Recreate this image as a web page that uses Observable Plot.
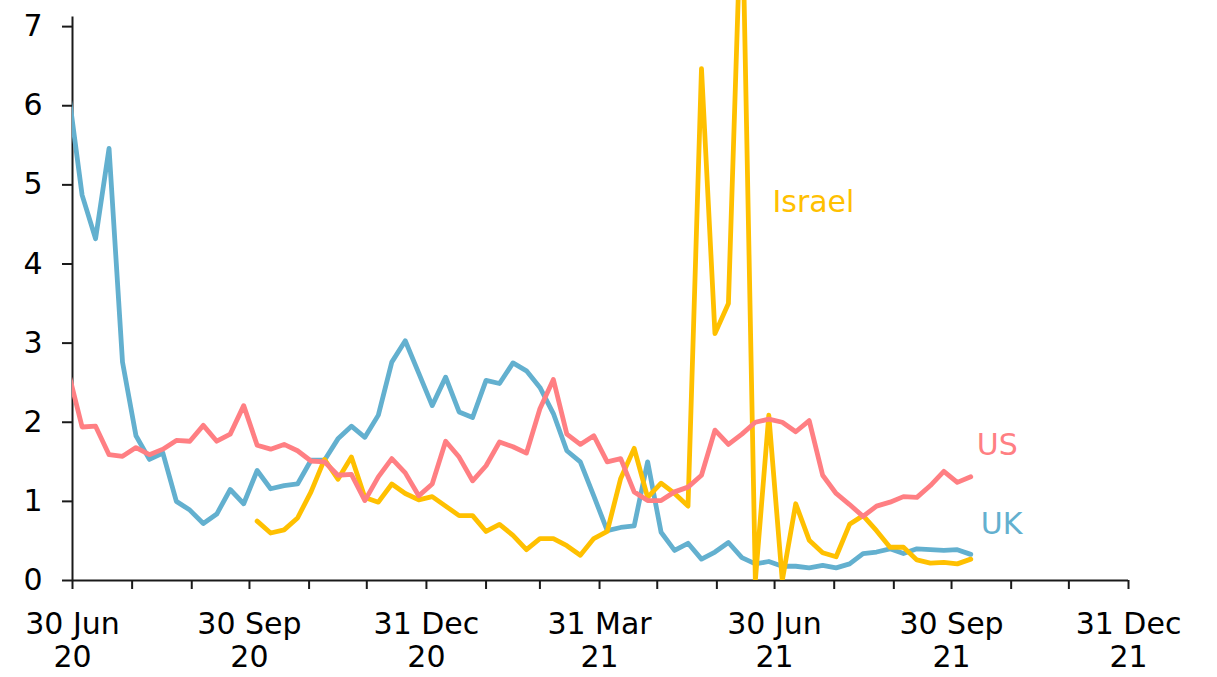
<!DOCTYPE html>
<html>
<head>
<meta charset="utf-8">
<script src="https://cdn.jsdelivr.net/npm/d3@7"></script>
<script src="https://cdn.jsdelivr.net/npm/@observablehq/plot@0.6"></script>
<style>
  html, body { margin: 0; padding: 0; background: #ffffff; }
  #chart { width: 1217px; height: 677px; overflow: hidden; }
</style>
</head>
<body>
<div id="chart"></div>
<script>
// Weekly observations, first week starting 28 Jun 2020 (68 weeks)
const firstWeek = "2020-06-28";
const weekCount = 68;

const ukValues = [6.16, 4.87, 4.32, 5.46, 2.76, 1.83, 1.53, 1.61, 1.00, 0.89,
  0.72, 0.84, 1.15, 0.97, 1.39, 1.16, 1.20, 1.22, 1.52, 1.52,
  1.79, 1.95, 1.81, 2.09, 2.76, 3.03, 2.62, 2.21, 2.57, 2.13,
  2.06, 2.53, 2.49, 2.75, 2.65, 2.44, 2.11, 1.64, 1.50, 1.07,
  0.63, 0.67, 0.69, 1.50, 0.61, 0.38, 0.47, 0.27, 0.36, 0.48,
  0.29, 0.21, 0.24, 0.18, 0.18, 0.16, 0.19, 0.16, 0.21, 0.34,
  0.36, 0.40, 0.34, 0.40, 0.39, 0.38, 0.39, 0.33];

const usValues = [2.62, 1.94, 1.95, 1.59, 1.57, 1.68, 1.59, 1.66, 1.77, 1.76,
  1.96, 1.76, 1.85, 2.21, 1.71, 1.66, 1.72, 1.64, 1.51, 1.50,
  1.33, 1.34, 1.01, 1.31, 1.54, 1.36, 1.07, 1.22, 1.76, 1.56,
  1.26, 1.45, 1.75, 1.69, 1.61, 2.17, 2.54, 1.85, 1.72, 1.83,
  1.50, 1.54, 1.12, 1.01, 1.01, 1.12, 1.18, 1.33, 1.90, 1.72,
  1.85, 2.00, 2.04, 2.00, 1.88, 2.02, 1.33, 1.10, 0.96, 0.81,
  0.94, 0.99, 1.06, 1.05, 1.20, 1.38, 1.24, 1.31];

const israelValues = [null, null, null, null, null, null, null, null, null, null,
  null, null, null, null, 0.75, 0.60, 0.64, 0.79, 1.12, 1.53,
  1.28, 1.56, 1.05, 0.99, 1.22, 1.10, 1.02, 1.06, 0.94, 0.82,
  0.82, 0.62, 0.71, 0.57, 0.39, 0.53, 0.53, 0.44, 0.32, 0.53,
  0.62, 1.29, 1.67, 1.05, 1.23, 1.10, 0.94, 6.47, 3.12, 3.50,
  8.80, 0.00, 2.09, 0.00, 0.97, 0.51, 0.35, 0.30, 0.71, 0.82,
  0.63, 0.42, 0.42, 0.26, 0.22, 0.23, 0.21, 0.27];

const seriesNames = ["UK", "US", "Israel"];
const seriesColors = ["#63B0CF", "#FF7F83", "#FFC000"];

const yTicks = [0, 1, 2, 3, 4, 5, 6, 7];
const monthTicks = ["2020-06-30", "2020-07-31", "2020-08-31", "2020-09-30", "2020-10-31",
  "2020-11-30", "2020-12-31", "2021-01-31", "2021-02-28", "2021-03-31", "2021-04-30",
  "2021-05-31", "2021-06-30", "2021-07-31", "2021-08-31", "2021-09-30", "2021-10-31",
  "2021-11-30", "2021-12-31"];
const labelTicks = ["2020-06-30", "2020-09-30", "2020-12-31", "2021-03-31",
  "2021-06-30", "2021-09-30", "2021-12-31"];
const labelTexts = ["30 Jun\n20", "30 Sep\n20", "31 Dec\n20", "31 Mar\n21",
  "30 Jun\n21", "30 Sep\n21", "31 Dec\n21"];

// ---- build tables ----
const start = new Date(firstWeek);
const dates = d3.range(weekCount).map(k => d3.utcDay.offset(start, 7 * k));
const rows = v => dates.map((date, i) => ({date, value: v[i]}));
const uk = rows(ukValues), us = rows(usValues), israel = rows(israelValues);

const labelMap = new Map(labelTicks.map((d, i) => [+new Date(d), labelTexts[i]]));
const xDomain = [new Date(monthTicks[0]), new Date(monthTicks[monthTicks.length - 1])];

const font = "'DejaVu Sans', sans-serif";
const axisColor = "#1a1a1a";
const lw = 4.8;

const chart = Plot.plot({
  width: 1217,
  height: 677,
  marginLeft: 72,
  marginRight: 89,
  marginTop: 0,
  marginBottom: 97,
  style: {fontFamily: font, fontSize: "30px", color: "#000", background: "#fff", overflow: "hidden"},
  x: {type: "utc", domain: xDomain},
  y: {domain: [0, 7.33]},
  marks: [
    Plot.axisY({ticks: yTicks, tickSize: 10, tickPadding: 20, tickFormat: d => String(d),
      label: null, stroke: axisColor, strokeWidth: 2, fontSize: 30}),
    Plot.axisX({ticks: monthTicks.map(d => new Date(d)), tickSize: 9, tickFormat: () => "",
      label: null, stroke: axisColor, strokeWidth: 2}),
    Plot.axisX({ticks: labelTicks.map(d => new Date(d)), tickSize: 0, tickPadding: 29,
      tickFormat: d => labelMap.get(+d), label: null, fontSize: 30, lineHeight: 1.13}),
    Plot.ruleY([0], {stroke: axisColor, strokeWidth: 2}),
    Plot.ruleX([xDomain[0]], {y1: 0, y2: 7.12, stroke: axisColor, strokeWidth: 2}),
    Plot.line(uk, {x: "date", y: "value", stroke: seriesColors[0], strokeWidth: lw, clip: true}),
    Plot.line(israel, {x: "date", y: "value", stroke: seriesColors[2], strokeWidth: lw, clip: true}),
    Plot.line(us, {x: "date", y: "value", stroke: seriesColors[1], strokeWidth: lw, clip: true}),
    Plot.text(uk, Plot.selectLast({x: "date", y: "value", text: () => seriesNames[0],
      fill: seriesColors[0], textAnchor: "start", dx: 10, dy: -30, fontSize: 30})),
    Plot.text(us, Plot.selectLast({x: "date", y: "value", text: () => seriesNames[1],
      fill: seriesColors[1], textAnchor: "start", dx: 6, dy: -31, fontSize: 30})),
    Plot.text(israel.filter((d, i) => i === 49), {x: "date", y: "value", text: () => seriesNames[2],
      fill: seriesColors[2], textAnchor: "start", dx: 44, dy: -101, fontSize: 30})
  ]
});

document.getElementById("chart").appendChild(chart);
</script>
</body>
</html>
